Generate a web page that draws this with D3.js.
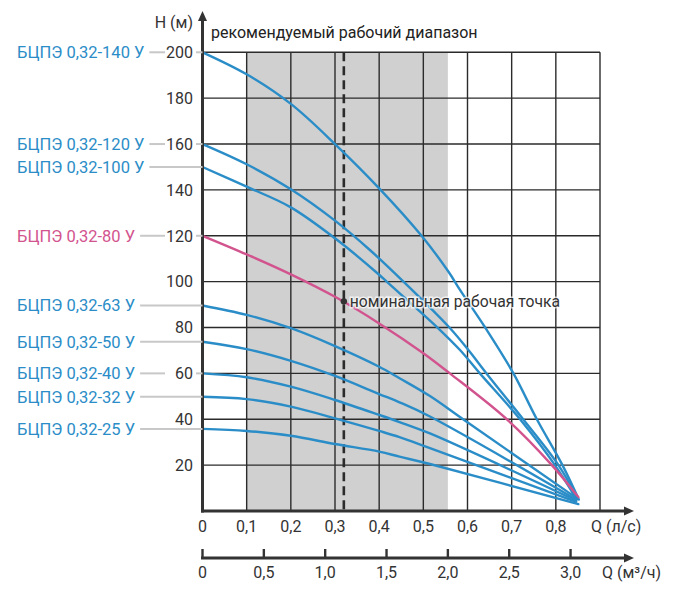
<!DOCTYPE html>
<head>
<meta charset="utf-8">
<style>
  body { margin: 0; background: #fff; }
  text { font-family: Roboto, "Noto Sans", sans-serif; }
</style>
</head>
<body>
<svg width="674" height="596"></svg>
<script src="https://cdn.jsdelivr.net/npm/d3@7"></script>
<script>

// pump curves, [Q (л/с), H (м)]
var curve140 = [[0,200],[0.1,190.4],[0.2,177.5],[0.3,160],[0.4,140.7],[0.496,120],[0.557,104.3],[0.583,96.4],[0.64,80],[0.704,60],[0.757,40],[0.815,20],[0.852,5]];
var curve120 = [[0,160],[0.1,151.2],[0.2,140.3],[0.3,126.6],[0.379,113.8],[0.455,100],[0.559,80],[0.602,70.2],[0.643,60],[0.726,40],[0.806,20],[0.849,5.5]];
var curve100 = [[0,150],[0.1,141.4],[0.2,132.4],[0.3,118.9],[0.4,103],[0.417,100],[0.532,80],[0.583,70.2],[0.628,60],[0.719,40],[0.798,20],[0.847,5]];
var curve80  = [[0,120],[0.1,111.9],[0.2,103.2],[0.3,93.4],[0.4,81.8],[0.5,68.8],[0.56,60],[0.689,40],[0.791,20],[0.851,6]];
var curve63  = [[0,89.6],[0.1,85.5],[0.2,79.7],[0.3,71.9],[0.4,62.9],[0.446,57.9],[0.515,50.1],[0.59,40],[0.848,5.5]];
var curve50  = [[0,73.8],[0.1,70.6],[0.2,65.5],[0.3,58.9],[0.4,51],[0.446,47.4],[0.515,41.2],[0.846,5]];
var curve40  = [[0,60],[0.1,58.3],[0.2,54.2],[0.3,48.4],[0.4,41.9],[0.446,38.8],[0.515,33.8],[0.846,4.5]];
var curve32  = [[0,49.8],[0.1,48.8],[0.2,45.5],[0.3,40.4],[0.4,34.9],[0.446,32.2],[0.515,27.4],[0.846,4]];
var curve25  = [[0,35.8],[0.1,34.9],[0.2,32.8],[0.3,29.2],[0.4,25.9],[0.446,23.7],[0.515,20.5],[0.851,3]];

var pumpNames = ["БЦПЭ 0,32-140 У", "БЦПЭ 0,32-120 У", "БЦПЭ 0,32-100 У", "БЦПЭ 0,32-80 У",
                 "БЦПЭ 0,32-63 У", "БЦПЭ 0,32-50 У", "БЦПЭ 0,32-40 У", "БЦПЭ 0,32-32 У", "БЦПЭ 0,32-25 У"];
var pumpCurves = [curve140, curve120, curve100, curve80, curve63, curve50, curve40, curve32, curve25];
var highlighted = "БЦПЭ 0,32-80 У";

var qTicks = [0, 0.1, 0.2, 0.3, 0.4, 0.5, 0.6, 0.7, 0.8];     // л/с labels
var qGrid = [0.1, 0.2, 0.3, 0.4, 0.5, 0.6, 0.7, 0.8, 0.9];
var hTicks = [20, 40, 60, 80, 100, 120, 140, 160, 180, 200];
var m3Ticks = [0, 0.5, 1.0, 1.5, 2.0, 2.5, 3.0];               // м³/ч labels
var rangeM3 = [0.5, 2.0];      // recommended range, м³/ч (shown from 0,1 л/с)
var rangeStart = 0.1;          // л/с
var nominal = [0.32, 91.4];    // номинальная рабочая точка

var blue = "#2b8dc7", pink = "#d2548e", dark = "#2b2b2b";

var svg = d3.select("svg");

var x = d3.scaleLinear().domain([0, 0.9]).range([202.5, 600]);
var y = d3.scaleLinear().domain([0, 200]).range([511, 52.3]);
var xm3 = d3.scaleLinear().domain([0, 0.9 * 3.6]).range([202.5, 600]);

var fmt = function(d) { return d === 0 ? "0" : d3.format(".1f")(d).replace(".", ","); };

// recommended range band
svg.append("rect")
    .attr("x", x(rangeStart))
    .attr("y", y(200))
    .attr("width", xm3(rangeM3[1]) - x(rangeStart))
    .attr("height", y(0) - y(200))
    .attr("fill", "#d0d0d0");

// grid
var grid = svg.append("g").attr("stroke", dark).attr("stroke-width", 1.4);
grid.selectAll(".v").data(qGrid).enter().append("line")
    .attr("x1", function(d) { return x(d); }).attr("x2", function(d) { return x(d); })
    .attr("y1", y(200)).attr("y2", y(0));
grid.selectAll(".h").data(hTicks).enter().append("line")
    .attr("x1", x(0)).attr("x2", x(0.9))
    .attr("y1", function(d) { return y(d); }).attr("y2", function(d) { return y(d); });

// nominal flow, dashed
svg.append("line")
    .attr("x1", x(nominal[0])).attr("x2", x(nominal[0]))
    .attr("y1", y(200)).attr("y2", y(0))
    .attr("stroke", dark).attr("stroke-width", 2.6)
    .attr("stroke-dasharray", "9,5");

// curves
var line = d3.line()
    .x(function(d) { return x(d[0]); })
    .y(function(d) { return y(d[1]); })
    .curve(d3.curveCatmullRom.alpha(0.5));

svg.selectAll(".curve").data(pumpCurves).enter().append("path")
    .attr("fill", "none")
    .attr("stroke", function(d, i) { return pumpNames[i] === highlighted ? pink : blue; })
    .attr("stroke-width", 2.4)
    .attr("stroke-linecap", "round")
    .attr("d", line);

// axes
var axes = svg.append("g").attr("stroke", "#333").attr("stroke-width", 3).attr("fill", "#333");
axes.append("line").attr("x1", x(0)).attr("x2", x(0)).attr("y1", y(0) + 1.5).attr("y2", 19);
axes.append("path").attr("stroke", "none").attr("d", "M" + x(0) + ",11 l-4.5,10 h9 z");
axes.append("line").attr("x1", x(0) - 1.5).attr("x2", 627).attr("y1", y(0)).attr("y2", y(0));
axes.append("path").attr("stroke", "none").attr("d", "M634," + y(0) + " l-10,-4.5 v9 z");

var y2 = 558;
axes.append("line").attr("x1", x(0) - 1.5).attr("x2", 627).attr("y1", y2).attr("y2", y2);
axes.append("path").attr("stroke", "none").attr("d", "M634," + y2 + " l-10,-4.5 v9 z");
axes.selectAll(".t2").data(m3Ticks).enter().append("line")
    .attr("stroke-width", 2.4)
    .attr("x1", function(d) { return xm3(d); }).attr("x2", function(d) { return xm3(d); })
    .attr("y1", y2).attr("y2", y2 - 9);

// tick labels
var labels = svg.append("g").attr("fill", "#333").attr("font-size", 16);
labels.selectAll(".yl").data(hTicks).enter().append("text")
    .attr("x", 193).attr("y", function(d) { return y(d); })
    .attr("dy", "0.36em").attr("text-anchor", "end")
    .text(function(d) { return d; });
labels.selectAll(".xl").data(qTicks).enter().append("text")
    .attr("x", function(d) { return x(d); }).attr("y", 532)
    .attr("text-anchor", "middle")
    .text(fmt);
labels.selectAll(".x2l").data(m3Ticks).enter().append("text")
    .attr("x", function(d) { return xm3(d); }).attr("y", 578)
    .attr("text-anchor", "middle")
    .text(fmt);
labels.append("text").attr("x", 591).attr("y", 532).text("Q (л/с)");
labels.append("text").attr("x", 602).attr("y", 578).text("Q (м³/ч)");
labels.append("text").attr("x", 193).attr("y", 28).attr("text-anchor", "end").text("H (м)");
labels.append("text").attr("x", 211).attr("y", 38).attr("fill", "#222").text("рекомендуемый рабочий диапазон");

// nominal point
svg.append("circle")
    .attr("cx", x(nominal[0])).attr("cy", y(nominal[1])).attr("r", 3.2)
    .attr("fill", "#333");
svg.append("text")
    .attr("x", x(nominal[0]) + 6).attr("y", y(nominal[1]) + 6)
    .attr("font-size", 15.7).attr("fill", "#333")
    .attr("stroke", "#fff").attr("stroke-width", 3).attr("stroke-opacity", 0.7)
    .attr("paint-order", "stroke")
    .text("номинальная рабочая точка");

// pump names with connectors
var names = svg.append("g");
pumpCurves.forEach(function(c, i) {
  var h = c[0][1];
  var t = names.append("text")
      .attr("x", 17).attr("y", y(h)).attr("dy", "0.36em")
      .attr("font-size", 16.5)
      .attr("fill", pumpNames[i] === highlighted ? pink : blue)
      .text(pumpNames[i]);
  var end = 17 + t.node().getComputedTextLength() + 5;
  var segs = hTicks.indexOf(Math.round(h)) >= 0 && Math.abs(h - Math.round(h)) < 0.01
      ? [[end, 165], [196, x(0)]] : [[end, x(0)]];
  segs.forEach(function(s) {
    names.append("line")
        .attr("x1", s[0]).attr("x2", s[1])
        .attr("y1", y(h)).attr("y2", y(h))
        .attr("stroke", "#c8c8c8").attr("stroke-width", 2);
  });
});

</script>
</body>
</html>
